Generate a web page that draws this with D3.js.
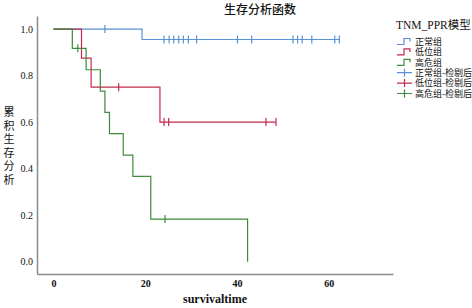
<!DOCTYPE html>
<html>
<head>
<meta charset="utf-8">
<script src="https://cdn.jsdelivr.net/npm/d3@7"></script>
<style>
  body { margin: 0; background: #fff; }
  text { font-family: "Liberation Serif", "Noto Sans CJK SC", serif; fill: #111; }
</style>
</head>
<body>
<div id="chart"></div>
<script>
// step curves (time, cumulative survival)
const normalTimes = [0, 19.3, 62.3]
const normalSurv = [1, 0.955, 0.955]
const normalCensor = [11.2, 24.1, 25.2, 26.2, 27.3, 28.3, 29.4, 31.2, 40.1, 43.2, 52.2, 53.2, 54.2, 56.3, 61.3, 62.3]

const lowTimes = [0, 6.1, 8.2, 23.2, 48.5]
const lowSurv = [1, 0.875, 0.75, 0.6, 0.6]
const lowCensor = [14.2, 24.1, 25.1, 46.3, 48.5]

const highTimes = [0, 4.1, 7.1, 10.2, 11.2, 12.2, 15.2, 17.3, 21.2, 42.3]
const highSurv = [1, 0.917, 0.825, 0.733, 0.642, 0.55, 0.458, 0.367, 0.183, 0]
const highCensor = [5.3, 24.3]

const groupNames = ['正常组', '低位组', '高危组']
const censorSuffix = '-检剔后'
const xTicks = [0, 20, 40, 60]
const yTicks = [0.0, 0.2, 0.4, 0.6, 0.8, 1.0]

const colors = ['#5b8fd6', '#c42a4c', '#3e8a3e']

const groups = [
    { name: groupNames[0], times: normalTimes, surv: normalSurv, censor: normalCensor },
    { name: groupNames[1], times: lowTimes, surv: lowSurv, censor: lowCensor },
    { name: groupNames[2], times: highTimes, surv: highSurv, censor: highCensor }
]

const width = 472, height = 308

const svg = d3.select('#chart').append('svg')
    .attr('width', width)
    .attr('height', height)

const xScale = d3.scaleLinear().domain([-3.6, 74]).range([37, 393])
const yScale = d3.scaleLinear().domain([-0.053, 1.056]).range([274, 16])

// axes (no tick marks, grey lines)
const xAxis = d3.axisBottom(xScale).tickValues(xTicks).tickSize(0).tickPadding(6).tickFormat(d3.format('d'))
const yAxis = d3.axisLeft(yScale).tickValues(yTicks).tickSize(0).tickPadding(4).tickFormat(d3.format('.1f'))

svg.append('g')
    .attr('transform', `translate(0,${yScale.range()[0]})`)
    .call(xAxis)
    .call(g => g.select('.domain').attr('stroke', '#8a8a8a').attr('stroke-width', 1.5))
    .call(g => g.selectAll('text').attr('font-size', 10).attr('font-weight', 'bold').attr('font-family', 'Liberation Serif'))

svg.append('g')
    .attr('transform', `translate(${xScale.range()[0]},0)`)
    .call(yAxis)
    .call(g => g.select('.domain').attr('stroke', '#8a8a8a').attr('stroke-width', 1.5))
    .call(g => g.selectAll('text').attr('font-size', 10).attr('font-family', 'Liberation Serif'))

// survival curves
const line = d3.line()
    .x(d => xScale(d[0]))
    .y(d => yScale(d[1]))
    .curve(d3.curveStepAfter)

const survAt = (g, t) => {
    let s = g.surv[0]
    g.times.forEach((tt, i) => { if (tt <= t) s = g.surv[i] })
    return s
}

groups.forEach((g, i) => {
    const pts = g.times.map((t, j) => [t, g.surv[j]])
    svg.append('path')
        .attr('d', line(pts))
        .attr('fill', 'none')
        .attr('stroke', colors[i])
        .attr('stroke-width', 1.2)

    svg.append('g').selectAll('line')
        .data(g.censor)
        .join('line')
        .attr('x1', d => xScale(d))
        .attr('x2', d => xScale(d))
        .attr('y1', d => yScale(survAt(g, d)) - 4)
        .attr('y2', d => yScale(survAt(g, d)) + 4)
        .attr('stroke', colors[i])
        .attr('stroke-width', 1.2)
})

// titles
svg.append('text')
    .attr('x', 260)
    .attr('y', 14)
    .attr('text-anchor', 'middle')
    .attr('font-size', 12)
    .attr('font-weight', 500)
    .text('生存分析函数')

svg.append('text')
    .attr('x', 215)
    .attr('y', 303)
    .attr('text-anchor', 'middle')
    .attr('font-size', 12)
    .attr('font-weight', 600)
    .text('survivaltime')

const yLabel = svg.append('text')
    .attr('text-anchor', 'middle')
    .attr('font-size', 11)
Array.from('累积生存分析').forEach((c, i) => {
    yLabel.append('tspan')
        .attr('x', 9)
        .attr('y', 116 + i * 13.6)
        .text(c)
})

// legend
const legend = svg.append('g').attr('transform', 'translate(397,0)')
legend.append('text')
    .attr('x', -1)
    .attr('y', 29)
    .attr('font-size', 11.5)
    .text('TNM_PPR模型')

const legendItems = [
    ...groups.map((g, i) => ({ label: g.name, color: colors[i], censor: false })),
    ...groups.map((g, i) => ({ label: g.name + censorSuffix, color: colors[i], censor: true }))
]

const item = legend.selectAll('.legend-item')
    .data(legendItems)
    .join('g')
    .attr('class', 'legend-item')
    .attr('transform', (d, i) => `translate(0,${41.5 + i * 10.4})`)

item.filter(d => !d.censor).append('path')
    .attr('d', 'M0,3H7V-3H13V0')
    .attr('fill', 'none')
    .attr('stroke', d => d.color)
    .attr('stroke-width', 1.2)

item.filter(d => d.censor).append('path')
    .attr('d', 'M0,0H15M7.5,-4V4')
    .attr('fill', 'none')
    .attr('stroke', d => d.color)
    .attr('stroke-width', 1.2)

item.append('text')
    .attr('x', 18)
    .attr('y', 3.2)
    .attr('font-size', 9)
    .text(d => d.label)
</script>
</body>
</html>
